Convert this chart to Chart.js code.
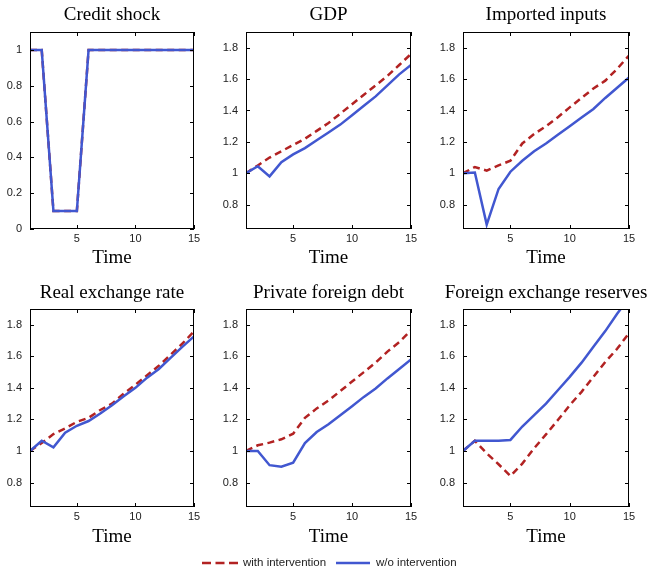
<!DOCTYPE html>
<html>
<head>
<meta charset="utf-8">
<script src="https://cdn.jsdelivr.net/npm/chart.js@4.4.0/dist/chart.umd.min.js"></script>
<style>
  html, body { margin: 0; padding: 0; background: #fff; overflow: hidden; }
  #wrap { position: relative; width: 650px; height: 568px; }
  #wrap canvas { position: absolute; }
  .leg { position: absolute; top: 556px; height: 14px; line-height: 14px;
         font: 11.5px "Liberation Sans", Arial, sans-serif; color: #222; white-space: nowrap; }
  .leg svg { position: absolute; top: 0; }
</style>
</head>
<body>
<div id="wrap">
  <canvas id="p1"></canvas>
  <canvas id="p2"></canvas>
  <canvas id="p3"></canvas>
  <canvas id="p4"></canvas>
  <canvas id="p5"></canvas>
  <canvas id="p6"></canvas>
  <div class="leg" style="left:201px;">
    <svg width="38" height="14"><line x1="1" y1="7" x2="37" y2="7" stroke="#b22222" stroke-width="2.5" stroke-dasharray="9,4.5"/></svg>
    <span style="position:absolute; left:42px;">with intervention</span>
  </div>
  <div class="leg" style="left:336px;">
    <svg width="36" height="14"><line x1="0" y1="7" x2="34" y2="7" stroke="#4157d0" stroke-width="2.5"/></svg>
    <span style="position:absolute; left:40px;">w/o intervention</span>
  </div>
</div>
<script>
'use strict';

var periods = [1, 2, 3, 4, 5, 6, 7, 8, 9, 10, 11, 12, 13, 14, 15];
var xTicks = [5, 10, 15];
var shockTicks = [0, 0.2, 0.4, 0.6, 0.8, 1];
var levelTicks = [0.8, 1, 1.2, 1.4, 1.6, 1.8];
var seriesNames = ['with intervention', 'w/o intervention'];
var panelTitles = ['Credit shock', 'GDP', 'Imported inputs',
  'Real exchange rate', 'Private foreign debt', 'Foreign exchange reserves'];

var shockWith    = [1, 1, 0.1, 0.1, 0.1, 1, 1, 1, 1, 1, 1, 1, 1, 1, 1];
var shockWithout = [1, 1, 0.1, 0.1, 0.1, 1, 1, 1, 1, 1, 1, 1, 1, 1, 1];

var gdpWith    = [1.00, 1.05, 1.10, 1.14, 1.18, 1.22, 1.27, 1.32, 1.38, 1.44, 1.50, 1.56, 1.62, 1.69, 1.76];
var gdpWithout = [1.00, 1.045, 0.98, 1.07, 1.12, 1.16, 1.21, 1.26, 1.31, 1.37, 1.43, 1.49, 1.56, 1.63, 1.69];

var importsWith    = [1.00, 1.04, 1.017, 1.05, 1.08, 1.19, 1.25, 1.30, 1.357, 1.42, 1.48, 1.54, 1.59, 1.665, 1.75];
var importsWithout = [1.00, 1.005, 0.673, 0.90, 1.01, 1.08, 1.14, 1.19, 1.245, 1.30, 1.356, 1.41, 1.48, 1.545, 1.61];

var rerWith    = [1.00, 1.05, 1.107, 1.143, 1.185, 1.21, 1.26, 1.30, 1.364, 1.42, 1.48, 1.54, 1.61, 1.68, 1.758];
var rerWithout = [1.00, 1.065, 1.023, 1.116, 1.16, 1.19, 1.238, 1.29, 1.347, 1.40, 1.465, 1.52, 1.59, 1.66, 1.726];

var debtWith    = [1.00, 1.036, 1.053, 1.074, 1.11, 1.21, 1.27, 1.32, 1.38, 1.44, 1.50, 1.56, 1.63, 1.69, 1.765];
var debtWithout = [1.00, 1.00, 0.91, 0.90, 0.926, 1.05, 1.12, 1.17, 1.227, 1.284, 1.343, 1.396, 1.46, 1.52, 1.58];

var reservesWith    = [1.00, 1.065, 0.985, 0.916, 0.842, 0.92, 1.017, 1.105, 1.196, 1.29, 1.375, 1.47, 1.564, 1.648, 1.747];
var reservesWithout = [1.00, 1.065, 1.065, 1.065, 1.07, 1.155, 1.227, 1.30, 1.385, 1.47, 1.56, 1.66, 1.76, 1.87, 1.97];

var redColor = '#b22222';
var blueColor = '#4157d0';

Chart.defaults.font.family = '"Liberation Sans", Arial, sans-serif';
Chart.defaults.color = '#222';

// plot-area edges in page pixels
var colLeft = [30, 246, 463];
var colRight = [194, 411, 629];
var rowTop = [32, 309];
var rowBottom = [229, 507];
var titlePadTop = [4, 5];

// matlab style box with inward ticks
var boxPlugin = {
  id: 'box',
  afterDatasetsDraw: function (chart) {
    var a = chart.chartArea, ctx = chart.ctx;
    var xs = chart.scales.x, ys = chart.scales.y;
    ctx.save();
    ctx.strokeStyle = '#000';
    ctx.lineWidth = 1;
    ctx.beginPath();
    xs.ticks.forEach(function (t) {
      var px = Math.round(xs.getPixelForValue(t.value)) + 0.5;
      ctx.moveTo(px, a.bottom); ctx.lineTo(px, a.bottom - 4);
      ctx.moveTo(px, a.top); ctx.lineTo(px, a.top + 4);
    });
    ys.ticks.forEach(function (t) {
      var py = Math.round(ys.getPixelForValue(t.value)) + 0.5;
      ctx.moveTo(a.left, py); ctx.lineTo(a.left + 4, py);
      ctx.moveTo(a.right, py); ctx.lineTo(a.right - 4, py);
    });
    ctx.stroke();
    ctx.strokeRect(a.left + 0.5, a.top + 0.5, a.width - 1, a.height - 1);
    ctx.restore();
  }
};

function toPoints(vals) {
  return periods.map(function (p, i) { return { x: p, y: vals[i] }; });
}

function makePanel(idx, withVals, withoutVals, yMin, yMax, yTicks) {
  var col = idx % 3, row = Math.floor(idx / 3);
  var L = colLeft[col], R = colRight[col], T = rowTop[row], B = rowBottom[row];
  var canvas = document.getElementById('p' + (idx + 1));
  canvas.width = R - L + 80;
  canvas.height = B - T + 74;
  canvas.style.left = (L - 40) + 'px';
  canvas.style.top = (T - 32) + 'px';

  return new Chart(canvas.getContext('2d'), {
    type: 'line',
    data: {
      datasets: [{
        label: seriesNames[0],
        data: toPoints(withVals),
        borderColor: redColor,
        borderWidth: 2.5,
        borderDash: [7, 4.5],
        pointRadius: 0,
        tension: 0,
        clip: 0,
        order: 2
      }, {
        label: seriesNames[1],
        data: toPoints(withoutVals),
        borderColor: blueColor,
        borderWidth: 2.5,
        pointRadius: 0,
        tension: 0,
        clip: 0,
        order: 1
      }]
    },
    options: {
      responsive: false,
      animation: false,
      layout: { padding: 0 },
      plugins: {
        legend: { display: false },
        tooltip: { enabled: false },
        title: {
          display: true,
          text: panelTitles[idx],
          color: '#000',
          font: { family: '"Liberation Serif", "Times New Roman", serif', size: 19, weight: 'normal', lineHeight: 1.2 },
          padding: { top: titlePadTop[row], bottom: 32 - 22.8 - titlePadTop[row] }
        }
      },
      scales: {
        x: {
          type: 'linear',
          min: 1,
          max: 15,
          grid: { display: false, drawTicks: false },
          border: { display: false },
          afterBuildTicks: function (scale) {
            scale.ticks = xTicks.map(function (v) { return { value: v }; });
          },
          afterFit: function (scale) { scale.height = 42; },
          ticks: { font: { size: 11 }, padding: 3, maxRotation: 0 },
          title: {
            display: true,
            text: 'Time',
            color: '#000',
            font: { family: '"Liberation Serif", "Times New Roman", serif', size: 19, lineHeight: 1.2 },
            padding: { top: 0, bottom: row === 0 ? 2 : 1 }
          }
        },
        y: {
          type: 'linear',
          min: yMin,
          max: yMax,
          grid: { display: false, drawTicks: false },
          border: { display: false },
          afterBuildTicks: function (scale) {
            scale.ticks = yTicks.map(function (v) { return { value: v }; });
          },
          afterFit: function (scale) { scale.width = 40; },
          ticks: {
            font: { size: 11 },
            padding: 8,
            callback: function (v) { return String(+v.toFixed(1)); }
          }
        },
        yMirror: {
          type: 'linear',
          position: 'right',
          grid: { display: false, drawTicks: false },
          border: { display: false },
          ticks: { display: false },
          afterFit: function (scale) { scale.width = 40; }
        }
      }
    },
    plugins: [boxPlugin]
  });
}

makePanel(0, shockWith, shockWithout, 0, 1.1, shockTicks);
makePanel(1, gdpWith, gdpWithout, 0.645, 1.9, levelTicks);
makePanel(2, importsWith, importsWithout, 0.645, 1.9, levelTicks);
makePanel(3, rerWith, rerWithout, 0.645, 1.9, levelTicks);
makePanel(4, debtWith, debtWithout, 0.645, 1.9, levelTicks);
makePanel(5, reservesWith, reservesWithout, 0.645, 1.9, levelTicks);
</script>
</body>
</html>
